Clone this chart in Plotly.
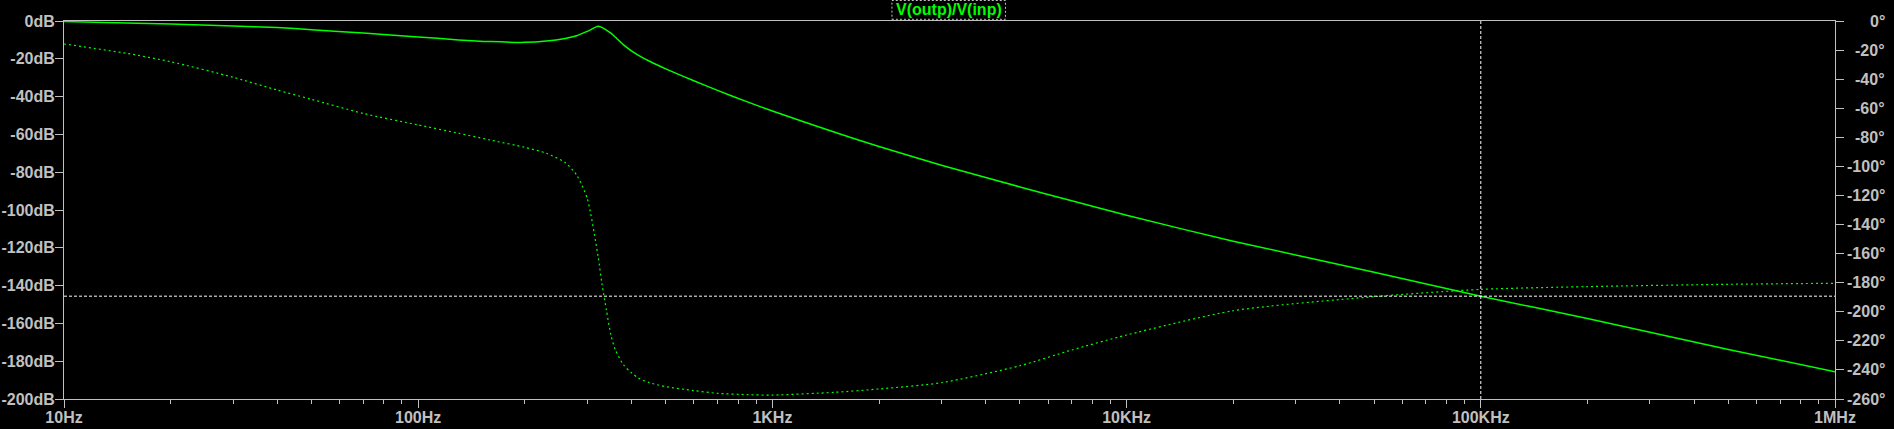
import plotly.graph_objects as go

# ---- data ----
freq_hz = [10, 15, 20, 30, 40, 50, 70, 100, 130, 160, 200, 230, 260, 280, 300,
           322, 330, 340, 350, 360, 380, 400, 420, 450, 500, 600, 700, 850, 1000, 1500,
           2000, 3000, 5000, 7000, 10000, 20000, 50000, 100000, 200000, 500000, 1000000]
mag_db = [-0.3, -1.0, -1.6, -2.6, -3.5, -4.6, -6.4, -8.4, -10.0, -10.9, -11.3, -10.6,
          -9.2, -7.8, -5.5, -2.8, -3.4, -4.8, -6.4, -8.5, -12.6, -15.8, -18.3, -21.3,
          -25.3, -31.6, -36.7, -42.8, -47.6, -58.9, -66.4, -76.3, -87.8, -95.1, -102.8,
          -116.5, -132.9, -145.6, -157.4, -173.8, -185.6]
phase_deg = [-15.8, -22.2, -28.0, -38.7, -47.5, -53.9, -63.6, -71.5, -77.2, -81.9,
             -86.9, -91.0, -97.4, -105.9, -122.0, -162.0, -180.4, -199.0, -216.0, -226.0,
             -236.6, -242.0, -245.8, -248.8, -251.5, -254.2, -256.1, -257.0, -257.3,
             -255.4, -253.1, -248.8, -237.1, -226.3, -216.0, -199.3, -189.6, -184.6,
             -182.7, -181.1, -180.4]

x_tickvals = [10, 100, 1000, 10000, 100000, 1000000]
x_ticktext = ["10Hz", "100Hz", "1KHz", "10KHz", "100KHz", "1MHz"]
db_ticks = list(range(-200, 1, 20))
deg_ticks = list(range(-260, 1, 20))

cursor_freq = 100000
cursor_db = -145.6
trace_title = "V(outp)/V(inp)"

GREEN = "#00ff00"
GRAY = "#c0c0c0"
FONT = "Liberation Sans, Arial"
minor_vals = [d * m for d in [10, 100, 1000, 10000, 100000] for m in range(2, 10)]

fig = go.Figure()
fig.add_trace(go.Scatter(x=freq_hz, y=mag_db, mode="lines", line=dict(color=GREEN, width=1.5),
                         line_shape="spline", line_smoothing=0.7, name="mag", yaxis="y"))
fig.add_trace(go.Scatter(x=freq_hz, y=phase_deg, mode="lines",
                         line=dict(color=GREEN, width=1.2, dash="2px,3px"),
                         line_shape="spline", line_smoothing=0.7, name="phase", yaxis="y2"))

# cursors
fig.add_shape(type="line", xref="x", yref="paper", x0=cursor_freq, x1=cursor_freq, y0=0, y1=1,
              line=dict(color="white", width=1, dash="3px,2px"))
fig.add_shape(type="line", xref="paper", yref="y", x0=0, x1=1, y0=cursor_db, y1=cursor_db,
              line=dict(color="white", width=1, dash="3px,2px"))

# title box
fig.add_shape(type="rect", xref="paper", yref="paper", x0=0.4675, x1=0.5316,
              y0=1 + (21 - 19.3) / 378, y1=1 + 20.5 / 378,
              line=dict(color=GRAY, width=1, dash="2px,2px"))
fig.add_annotation(text=trace_title, xref="paper", yref="paper", x=0.4996, y=1 + (21 - 9.8) / 378,
                   xanchor="center", yanchor="middle", showarrow=False,
                   font=dict(family=FONT, size=16, color=GREEN, weight="bold"))

tickfont = dict(family=FONT, size=16, color=GRAY, weight="bold")

# right-axis labels (right-aligned, placed on the y2 scale)
for v in deg_ticks:
    fig.add_annotation(text=f"{v}°", xref="paper", yref="y2", x=(1887 - 64.0) / 1771.0, y=v,
                       xanchor="right", yanchor="middle", showarrow=False, font=tickfont)

fig.update_layout(
    width=1894, height=429,
    margin=dict(l=64, r=59, t=21, b=30, pad=0, autoexpand=False),
    paper_bgcolor="black", plot_bgcolor="black",
    showlegend=False,
    xaxis=dict(type="log", range=[1, 6], showgrid=False, zeroline=False, automargin=False,
               showline=True, linecolor=GRAY, linewidth=1, mirror=True,
               tickvals=x_tickvals, ticktext=x_ticktext, ticks="outside", ticklen=8,
               tickcolor=GRAY, tickfont=tickfont, ticklabelstandoff=-4,
               minor=dict(tickvals=minor_vals, ticks="outside", ticklen=4, tickcolor=GRAY)),
    yaxis=dict(range=[-200, 0], showgrid=False, zeroline=False, showline=True, automargin=False,
               linecolor=GRAY, linewidth=1, tickvals=db_ticks,
               ticktext=[f"{v}dB" for v in db_ticks], ticks="outside", ticklen=8,
               tickcolor=GRAY, tickfont=tickfont, ticklabelstandoff=-3),
    yaxis2=dict(range=[-260, 0], overlaying="y", side="right", showgrid=False, automargin=False,
                zeroline=False, showline=True, linecolor=GRAY, linewidth=1,
                tickvals=deg_ticks, showticklabels=False,
                ticks="outside", ticklen=8, tickcolor=GRAY),
)

fig.write_html("out.html", config={"displayModeBar": False},
               post_script="document.body.style.margin='0';document.body.style.overflow='hidden';")
